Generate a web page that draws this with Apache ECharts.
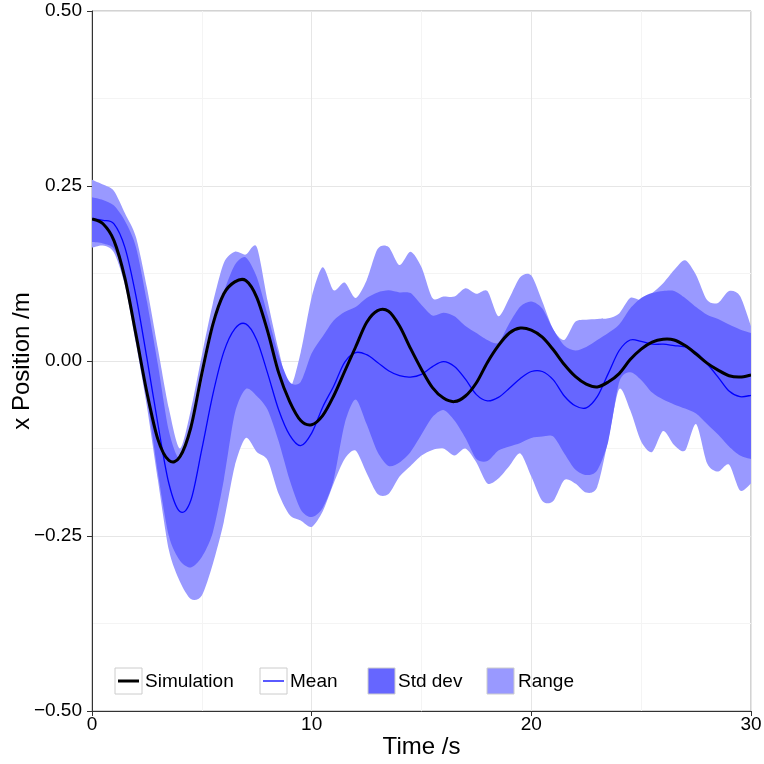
<!DOCTYPE html>
<html>
<head>
<meta charset="utf-8">
<script src="https://cdn.jsdelivr.net/npm/echarts@6/dist/echarts.min.js"></script>
<style>
html,body{margin:0;padding:0;background:#fff;}
#chart{width:764px;height:764px;}
</style>
</head>
<body>
<div id="chart"></div>
<script>
// Time grid (s)
var time = [0,0.5,1,1.5,2,2.5,3,3.5,4,4.5,5,5.5,6,6.5,7,7.5,8,8.5,9,9.5,10,10.5,11,11.5,12,12.5,13,13.5,14,14.5,15,15.5,16,16.5,17,17.5,18,18.5,19,19.5,20,20.5,21,21.5,22,22.5,23,23.5,24,24.5,25,25.5,26,26.5,27,27.5,28,28.5,29,29.5,30];
// Simulation x position (m)
var simulation = [0.203,0.196,0.172,0.118,0.038,-0.045,-0.112,-0.142,-0.137,-0.095,-0.018,0.052,0.096,0.113,0.115,0.091,0.042,-0.017,-0.058,-0.085,-0.091,-0.078,-0.05,-0.015,0.02,0.055,0.072,0.071,0.05,0.018,-0.012,-0.038,-0.053,-0.058,-0.05,-0.031,-0.002,0.022,0.04,0.047,0.044,0.034,0.016,-0.005,-0.022,-0.033,-0.037,-0.03,-0.018,0.002,0.017,0.027,0.031,0.03,0.022,0.01,-0.003,-0.013,-0.021,-0.023,-0.02];
// Ensemble mean
var mean = [0.203,0.201,0.196,0.162,0.093,0.004,-0.09,-0.175,-0.215,-0.199,-0.126,-0.048,0.013,0.046,0.053,0.03,-0.018,-0.07,-0.106,-0.121,-0.103,-0.066,-0.036,-0.002,0.012,0.009,-0.002,-0.014,-0.021,-0.023,-0.019,-0.008,-0.001,-0.008,-0.026,-0.048,-0.057,-0.052,-0.039,-0.025,-0.015,-0.015,-0.027,-0.05,-0.064,-0.067,-0.051,-0.018,0.015,0.03,0.028,0.024,0.024,0.022,0.02,0.012,-0.004,-0.023,-0.043,-0.051,-0.049];
// Mean + std dev
var stdUpper = [0.234,0.23,0.222,0.2,0.163,0.085,-0.005,-0.1,-0.14,-0.1,-0.03,0.045,0.098,0.137,0.148,0.12,0.065,0.008,-0.03,-0.03,0.011,0.035,0.058,0.07,0.077,0.09,0.098,0.101,0.098,0.097,0.08,0.065,0.069,0.064,0.05,0.04,0.03,0.026,0.054,0.078,0.085,0.075,0.045,0.022,0.015,0.02,0.03,0.04,0.052,0.075,0.09,0.097,0.1,0.1,0.09,0.077,0.066,0.06,0.052,0.045,0.04];
// Mean - std dev
var stdLower = [0.17,0.168,0.16,0.12,0.045,-0.05,-0.16,-0.25,-0.285,-0.295,-0.28,-0.245,-0.17,-0.075,-0.04,-0.05,-0.07,-0.115,-0.17,-0.212,-0.223,-0.21,-0.17,-0.09,-0.055,-0.09,-0.13,-0.15,-0.145,-0.13,-0.105,-0.08,-0.07,-0.085,-0.11,-0.14,-0.143,-0.128,-0.122,-0.117,-0.11,-0.108,-0.108,-0.132,-0.155,-0.163,-0.156,-0.115,-0.03,-0.016,-0.027,-0.045,-0.055,-0.062,-0.068,-0.075,-0.09,-0.105,-0.122,-0.135,-0.14];
// Range maximum
var rangeUpper = [0.259,0.252,0.243,0.211,0.177,0.105,0.018,-0.068,-0.125,-0.07,0.008,0.082,0.14,0.156,0.152,0.163,0.085,0.015,-0.038,0.012,0.091,0.134,0.101,0.112,0.09,0.115,0.16,0.163,0.137,0.156,0.134,0.09,0.092,0.092,0.104,0.096,0.1,0.064,0.09,0.12,0.122,0.085,0.045,0.03,0.056,0.059,0.06,0.061,0.068,0.09,0.087,0.097,0.111,0.13,0.144,0.123,0.087,0.083,0.1,0.093,0.05];
// Range minimum
var rangeLower = [0.162,0.165,0.155,0.108,0.025,-0.065,-0.17,-0.27,-0.315,-0.34,-0.335,-0.29,-0.23,-0.15,-0.11,-0.13,-0.142,-0.19,-0.22,-0.228,-0.237,-0.215,-0.175,-0.14,-0.128,-0.16,-0.19,-0.19,-0.165,-0.15,-0.135,-0.127,-0.125,-0.135,-0.125,-0.145,-0.175,-0.168,-0.15,-0.132,-0.165,-0.2,-0.2,-0.17,-0.175,-0.188,-0.18,-0.113,-0.04,-0.07,-0.115,-0.13,-0.1,-0.12,-0.128,-0.09,-0.146,-0.158,-0.148,-0.185,-0.175];
// Axis ticks
var xTicks = [0,10,20,30];
var yTicks = [-0.5,-0.25,0,0.25,0.5];
var legendNames = ['Simulation','Mean','Std dev','Range'];

var FONT = 'Liberation Sans, Arial, Helvetica, sans-serif';
var C_STD = '#6666ff', C_RANGE = '#9999ff';

// Catmull-Rom -> cubic bezier path through pixel points
function curvePath(pts, first, k){
  var d = (first ? 'M' : 'L') + pts[0][0] + ' ' + pts[0][1];
  for (var i = 0; i < pts.length - 1; i++){
    var p0 = pts[i-1] || pts[i], p1 = pts[i], p2 = pts[i+1], p3 = pts[i+2] || pts[i+1];
    var c1x = p1[0] + (p2[0]-p0[0])/6*k, c1y = p1[1] + (p2[1]-p0[1])/6*k;
    var c2x = p2[0] - (p3[0]-p1[0])/6*k, c2y = p2[1] - (p3[1]-p1[1])/6*k;
    d += 'C' + c1x + ' ' + c1y + ' ' + c2x + ' ' + c2y + ' ' + p2[0] + ' ' + p2[1];
  }
  return d;
}
function band(hi, lo, color, z){
  return {
    type:'custom', clip:true, silent:true, z:z,
    data:[[time[0], hi[0]]],
    renderItem:function(params, api){
      var up = time.map(function(t,i){ return api.coord([t, hi[i]]); });
      var dn = time.map(function(t,i){ return api.coord([t, lo[i]]); }).reverse();
      var d = curvePath(up, true, 0.8) + curvePath(dn, false, 0.8) + 'Z';
      return {type:'path', shape:{pathData:d}, style:{fill:color, stroke:null}};
    }
  };
}
function curve(name, vals, color, width, z){
  return {
    type:'custom', name:name, clip:true, silent:true, z:z,
    data:[[time[0], vals[0]]],
    renderItem:function(params, api){
      var pts = time.map(function(t,i){ return api.coord([t, vals[i]]); });
      return {type:'path', shape:{pathData:curvePath(pts, true, 1)},
        style:{fill:null, stroke:color, lineWidth:width, lineJoin:'round', lineCap:'butt'}};
    }
  };
}

var chart = echarts.init(document.getElementById('chart'), null, {renderer:'canvas'});
function axisCommon(){
  return {
    axisLine:{show:true, onZero:false, lineStyle:{color:'#333', width:1}},
    axisTick:{show:true, length:5, lineStyle:{color:'#333', width:1}},
    splitLine:{show:true, lineStyle:{color:'#e6e6e6', width:1}},
    minorTick:{show:false, splitNumber:2},
    minorSplitLine:{show:true, lineStyle:{color:'#f4f4f4', width:1}},
    nameMoveOverlap:false
  };
}
var option = {
  animation:false,
  backgroundColor:'#fff',
  grid:{left:92, right:13, top:11, bottom:53, containLabel:false, outerBoundsMode:'none',
    show:true, borderColor:'#a6a6a6', borderWidth:1, backgroundColor:'transparent'},
  xAxis: Object.assign({
    type:'value', min:xTicks[0], max:xTicks[xTicks.length-1], interval:xTicks[1]-xTicks[0],
    name:'Time /s', nameLocation:'middle', nameGap:24,
    nameTextStyle:{fontSize:24, color:'#000', fontFamily:FONT},
    axisLabel:{fontSize:19, color:'#000', fontFamily:FONT, margin:4}
  }, axisCommon()),
  yAxis: Object.assign({
    type:'value', min:yTicks[0], max:yTicks[yTicks.length-1], interval:yTicks[1]-yTicks[0],
    name:'x Position /m', nameLocation:'middle', nameGap:58,
    nameTextStyle:{fontSize:24, color:'#000', fontFamily:FONT},
    axisLabel:{fontSize:19, color:'#000', fontFamily:FONT, margin:10,
      formatter:function(v){ var s = Math.abs(v).toFixed(2); return v < 0 ? '\u2212' + s : s; }}
  }, axisCommon()),
  series:[
    band(rangeUpper, rangeLower, C_RANGE, 2),
    band(stdUpper, stdLower, C_STD, 3),
    curve(legendNames[1], mean, '#0000ff', 1.3, 4),
    curve(legendNames[0], simulation, '#000000', 3, 5)
  ],
  graphic:[
    {type:'rect', shape:{x:115, y:668, width:27, height:26}, style:{fill:'#fff', stroke:'#cccccc', lineWidth:1}, z:10},
    {type:'line', shape:{x1:118, y1:681, x2:139, y2:681}, style:{stroke:'#000', lineWidth:3}, z:11},
    {type:'text', x:145, y:682, style:{text:legendNames[0], font:'19px ' + FONT, fill:'#000', verticalAlign:'middle'}, z:11},
    {type:'rect', shape:{x:260, y:668, width:27, height:26}, style:{fill:'#fff', stroke:'#cccccc', lineWidth:1}, z:10},
    {type:'line', shape:{x1:263, y1:681, x2:284, y2:681}, style:{stroke:'#0000ff', lineWidth:1.3}, z:11},
    {type:'text', x:290, y:682, style:{text:legendNames[1], font:'19px ' + FONT, fill:'#000', verticalAlign:'middle'}, z:11},
    {type:'rect', shape:{x:368, y:668, width:27, height:26}, style:{fill:C_STD, stroke:'#cccccc', lineWidth:1}, z:10},
    {type:'text', x:398, y:682, style:{text:legendNames[2], font:'19px ' + FONT, fill:'#000', verticalAlign:'middle'}, z:11},
    {type:'rect', shape:{x:487, y:668, width:27, height:26}, style:{fill:C_RANGE, stroke:'#cccccc', lineWidth:1}, z:10},
    {type:'text', x:518, y:682, style:{text:legendNames[3], font:'19px ' + FONT, fill:'#000', verticalAlign:'middle'}, z:11}
  ]
};
chart.setOption(option);
</script>
</body>
</html>
